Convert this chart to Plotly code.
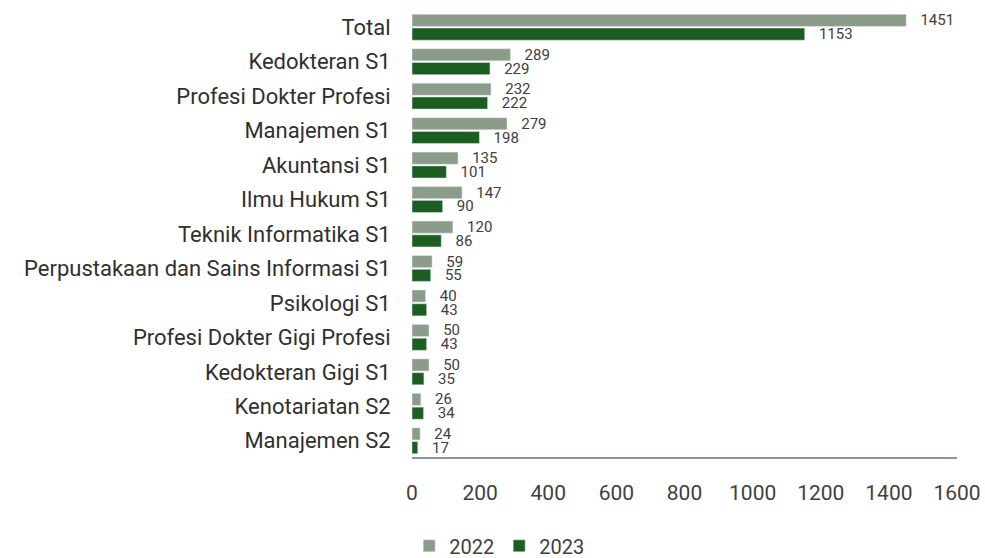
import plotly.graph_objects as go

categories = [
    "Total",
    "Kedokteran S1",
    "Profesi Dokter Profesi",
    "Manajemen S1",
    "Akuntansi S1",
    "Ilmu Hukum S1",
    "Teknik Informatika S1",
    "Perpustakaan dan Sains Informasi S1",
    "Psikologi S1",
    "Profesi Dokter Gigi Profesi",
    "Kedokteran Gigi S1",
    "Kenotariatan S2",
    "Manajemen S2",
]
values_2022 = [1451, 289, 232, 279, 135, 147, 120, 59, 40, 50, 50, 26, 24]
values_2023 = [1153, 229, 222, 198, 101, 90, 86, 55, 43, 43, 35, 34, 17]
x_ticks = [0, 200, 400, 600, 800, 1000, 1200, 1400, 1600]

font_family = "Roboto, Arial, sans-serif"

fig = go.Figure()
for name, vals, color in [("2022", values_2022, "#8c9c8a"),
                          ("2023", values_2023, "#1c5e22")]:
    fig.add_trace(go.Bar(
        name=name, y=categories, x=vals, orientation="h",
        marker_color=color,
        text=vals, texttemplate="   %{x}", textposition="outside",
        constraintext="none",
        textfont=dict(size=15, color="#404040"), cliponaxis=False,
    ))

fig.update_layout(
    width=985, height=558,
    barmode="group", bargap=0.2, bargroupgap=0.12,
    plot_bgcolor="white", paper_bgcolor="white",
    margin=dict(l=412, r=28, t=10, b=100, autoexpand=False),
    font=dict(family=font_family, color="#404040"),
    legend=dict(orientation="h", x=0.16, xanchor="center",
                y=-0.196, yanchor="middle", font=dict(size=20),
                traceorder="normal"),
)
fig.update_xaxes(
    range=[0, 1600], tickvals=x_ticks, showgrid=False, zeroline=False,
    showline=False, ticks="outside", ticklen=16, tickcolor="white",
    tickfont=dict(size=21, color="#404040"), ticklabeloverflow="allow",
)
fig.update_yaxes(
    autorange="reversed", showgrid=False, showline=False,
    ticks="outside", ticklen=16, tickcolor="white",
    tickfont=dict(size=22, color="#303030"),
)
# bottom axis line
fig.add_shape(type="line", xref="paper", yref="paper", x0=0, x1=1, y0=0, y1=0,
              line=dict(color="#8a96a0", width=2))

# drop the default 8px body margin so the figure fills the window
fig.write_html("out.html", config={"displayModeBar": False},
               post_script="document.body.style.margin='0';")
